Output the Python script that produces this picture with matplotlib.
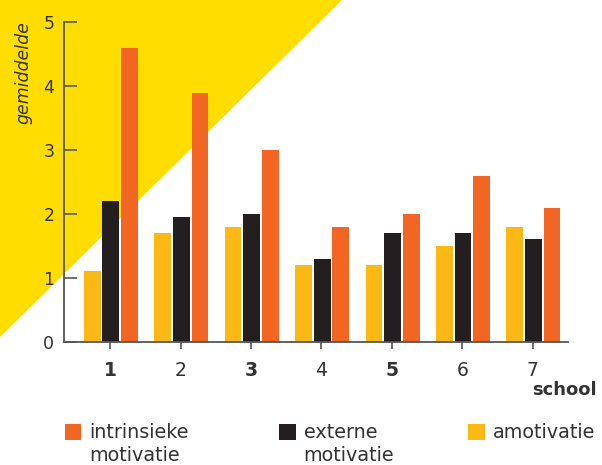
import matplotlib
matplotlib.use("Agg")
import matplotlib.pyplot as plt
from matplotlib.patches import Polygon, Rectangle
import numpy as np

schools = ["1", "2", "3", "4", "5", "6", "7"]
bold_ticks = ["1", "3", "5"]
amotivatie = [1.1, 1.7, 1.8, 1.2, 1.2, 1.5, 1.8]
externe = [2.2, 1.95, 2.0, 1.3, 1.7, 1.7, 1.6]
intrinsiek = [4.6, 3.9, 3.0, 1.8, 2.0, 2.6, 2.1]
legend_labels = ["intrinsieke\nmotivatie", "externe\nmotivatie", "amotivatie"]

C_YEL_BG = "#FFDD00"
C_AMO = "#FDB913"
C_EXT = "#231F20"
C_INT = "#F26522"
C_TXT = "#333333"
C_AX = "#555555"

plt.rcParams['font.family'] = ['DejaVu Sans']

W, H = 602, 465
fig = plt.figure(figsize=(W/100, H/100), dpi=100)

def fx(px):
    return px / W

def fy(py):
    return 1 - py / H

# yellow triangle background
tri = Polygon([(fx(0), fy(0)), (fx(342), fy(0)), (fx(0), fy(337))],
              closed=True, transform=fig.transFigure, facecolor=C_YEL_BG,
              edgecolor='none', zorder=-5)
fig.patches.append(tri)

ax = fig.add_axes([fx(64), fy(341.7), fx(568) - fx(64), fy(22.3) - fy(341.7)])
ax.patch.set_alpha(0)

x = np.arange(1, len(schools) + 1)
bw = 0.237
ax.bar(x - 0.255, amotivatie, width=bw, color=C_AMO, zorder=2)
ax.bar(x + 0.01, externe, width=bw, color=C_EXT, zorder=2)
ax.bar(x + 0.275, intrinsiek, width=bw, color=C_INT, zorder=2)

ax.set_xlim(0.345, 7.5)
ax.set_ylim(0, 5)
for s in ['top', 'right']:
    ax.spines[s].set_visible(False)
for s in ['left', 'bottom']:
    ax.spines[s].set_color(C_AX)
    ax.spines[s].set_linewidth(1.3)
    ax.spines[s].set_zorder(3)

ax.set_xticks(x)
ax.set_xticklabels(schools)
for lbl in ax.get_xticklabels():
    if lbl.get_text() in bold_ticks:
        lbl.set_fontweight('bold')
ax.tick_params(axis='x', direction='out', length=5, width=1.2, color=C_AX,
               labelsize=13.5, labelcolor=C_TXT, pad=9)
ax.set_yticks([0, 1, 2, 3, 4, 5])
ax.tick_params(axis='y', direction='in', length=9, width=1.2, color=C_AX,
               labelsize=12.5, labelcolor=C_TXT, pad=7)

fig.text(fx(23), fy(73), "gemiddelde", rotation=90, ha='center', va='center',
         fontsize=12.5, fontstyle='italic', color=C_TXT)
fig.text(fx(597), fy(390), "school", ha='right', va='center',
         fontsize=13, fontweight='bold', color=C_TXT)

# legend
leg_items = [(64.5, C_INT, legend_labels[0]), (279, C_EXT, legend_labels[1]),
             (468, C_AMO, legend_labels[2])]
for px, col, lab in leg_items:
    fig.patches.append(Rectangle((fx(px), fy(440)), fx(16.5), fy(424) - fy(440),
                                 transform=fig.transFigure, facecolor=col,
                                 edgecolor='none'))
    fig.text(fx(px + 24.5), fy(422.5), lab, ha='left', va='top', fontsize=13.8,
             color=C_TXT, linespacing=1.28)

fig.savefig("out.png", dpi=100)
